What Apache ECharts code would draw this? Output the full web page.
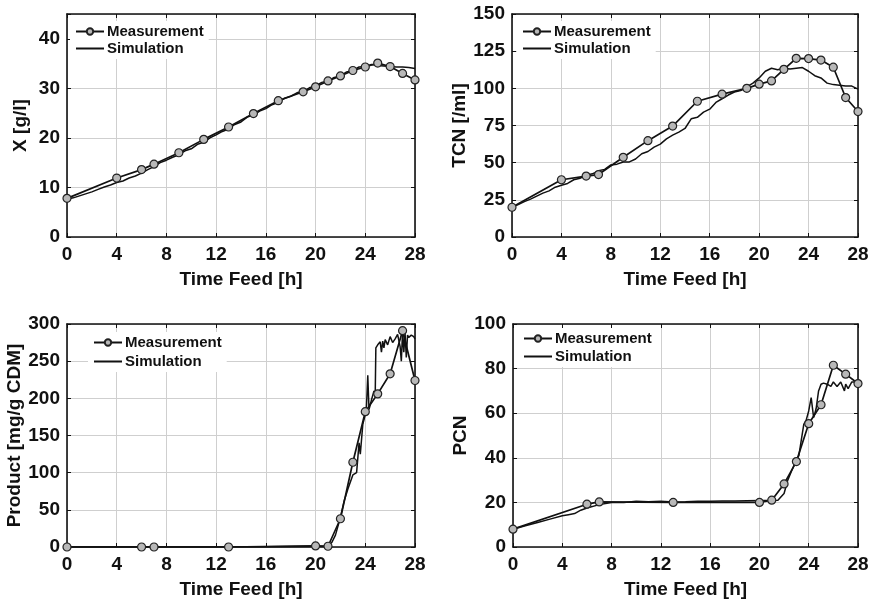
<!DOCTYPE html>
<html>
<head>
<meta charset="utf-8">
<script src="https://cdn.jsdelivr.net/npm/echarts@6/dist/echarts.min.js"></script>
<style>
html,body{margin:0;padding:0;background:#fff;}
#c{width:873px;height:603px;}
</style>
</head>
<body>
<div id="c"></div>
<script>
// ---------- data ----------
const xTicks = [0, 4, 8, 12, 16, 20, 24, 28];

// Panel 1: X [g/l]
const xMeasT = [0, 4, 6, 7, 9, 11, 13, 15, 17, 19, 20, 21, 22, 23, 24, 25, 26, 27, 28];
const xMeasV = [7.8, 11.9, 13.6, 14.7, 17.0, 19.7, 22.2, 24.9, 27.5, 29.3, 30.3, 31.5, 32.5, 33.6, 34.3, 35.1, 34.4, 33.0, 31.7];
const xSimT = [0, 0.5, 1, 1.5, 2, 2.5, 3, 3.5, 4, 4.5, 5, 5.5, 6, 6.5, 7, 7.5, 8, 8.5, 9, 9.5, 10, 10.5, 11, 11.5, 12, 12.5, 13, 13.5, 14, 14.5, 15, 15.5, 16, 16.5, 17, 17.5, 18, 18.5, 19, 19.5, 20, 20.5, 21, 21.5, 22, 22.5, 23, 23.5, 24, 24.5, 25, 25.5, 26, 26.5, 27, 27.5, 28];
const xSimV = [7.6, 7.9, 8.3, 8.7, 9.1, 9.6, 10.1, 10.5, 11.0, 11.3,
  11.9, 12.3, 12.9, 13.6, 14.2, 15.0, 15.5, 16.1, 16.6, 17.4,
  17.8, 18.7, 19.1, 20.0, 20.6, 21.3, 21.8, 22.7, 23.2, 24.2,
  24.6, 25.4, 25.9, 26.7, 27.2, 28.0, 28.4, 29.1, 29.4, 30.1,
  30.5, 31.2, 31.5, 32.2, 32.5, 33.3, 33.6, 34.3, 34.4, 34.8,
  34.6, 34.5, 34.4, 34.3, 34.3, 34.2, 34.0];

// Panel 2: TCN [/ml]
const tcnMeasT = [0, 4, 6, 7, 9, 11, 13, 15, 17, 19, 20, 21, 22, 23, 24, 25, 26, 27, 28];
const tcnMeasV = [20, 38.5, 41, 42, 53.6, 64.8, 74.6, 91.3, 96.1, 100, 102.8, 105, 112.8, 120.2, 120, 119, 114.2, 93.8, 84.4];
const tcnSimT = [0, 0.5, 1, 1.5, 2, 2.5, 3, 3.5, 4, 4.5, 5, 5.5, 6, 6.5, 7, 7.5, 8, 8.5, 9, 9.5, 10, 10.5, 11, 11.5, 12, 12.5, 13, 13.5, 14, 14.5, 15, 15.5, 16, 16.5, 17, 17.5, 18, 18.5, 19, 19.5, 20, 20.5, 21, 21.5, 22, 22.5, 23, 23.5, 24, 24.5, 25, 25.5, 26, 26.5, 27, 27.5, 28];
const tcnSimV = [20, 21.8, 23.8, 25.5, 27.5, 29.5, 31, 33.5, 34.8, 36,
  38.5, 39.5, 41.5, 42.5, 44.5, 45.5, 48.5, 49, 50.5, 50.5,
  52.5, 56, 57.5, 60.5, 62.5, 66, 68.5, 70.5, 73, 79.5,
  80.5, 84, 86, 90.5, 93, 95.5, 97.5, 98.5, 101, 103.5,
  107, 111.5, 113.5, 112.5, 113.5, 113, 113.5, 114, 111.5, 108.5,
  107, 103.5, 102.5, 102, 101.5, 101.5, 99.5];

// Panel 3: Product [mg/g CDM]
const prodMeasT = [0, 6, 7, 13, 20, 21, 22, 23, 24, 25, 26, 27, 28];
const prodMeasV = [0, 0, 0, 0, 1.5, 1, 38, 114, 182, 206, 233, 291, 224];
const prodSimT = [0, 4, 8, 12, 16, 20, 21, 21.3, 21.6, 22, 22.3, 22.6, 23, 23.3, 23.5, 23.6, 23.8, 24, 24.1, 24.2, 24.3, 24.5, 24.7, 24.8, 24.85, 25, 25.2, 25.3, 25.4, 25.5, 25.6, 25.8, 26, 26.2, 26.4, 26.6, 26.8, 26.9, 27, 27.1, 27.2, 27.3, 27.4, 27.5, 27.7, 27.9, 28];
const prodSimV = [0, 0, 0, 0, 0.5, 1, 1, 6, 16, 40, 62, 78, 97, 100, 140, 125, 165, 178, 190, 231, 185, 198, 210, 206, 268, 272, 276, 262, 277, 268, 279, 272, 283, 275, 280, 286, 270, 250, 290, 262, 288, 255, 285, 282, 285, 283, 280];

// Panel 4: PCN
const pcnMeasT = [0, 6, 7, 13, 20, 21, 22, 23, 24, 25, 26, 27, 28];
const pcnMeasV = [8, 19.2, 20.2, 20, 20, 21, 28.3, 38.3, 55.3, 63.8, 81.5, 77.5, 73.3];
const pcnSimT = [0, 1, 2, 3, 4, 4.5, 5, 5.5, 6, 7, 8, 9, 10, 11, 12, 13, 14, 15, 16, 17, 18, 19, 20, 21, 21.5, 22, 22.3, 22.6, 23, 23.2, 23.4, 23.6, 23.8, 24, 24.2, 24.4, 24.6, 24.8, 25, 25.2, 25.5, 25.8, 26, 26.3, 26.6, 26.9, 27, 27.2, 27.5, 27.8, 28];
const pcnSimV = [8, 9.5, 11, 12.5, 14, 14.5, 15, 16.5, 17.5, 19, 20, 20, 20.5, 20.3, 20.5, 20.2, 20.3, 20.5, 20.5, 20.6, 20.6, 20.7, 20.8, 20.8, 21, 24, 30, 34, 39, 41, 48, 55, 57, 61, 67, 58, 62, 70, 73, 73.5, 73, 72, 74, 72, 74, 70, 73, 71, 74, 74, 74];

const panels = [
  { name: 'X [g/l]', ymax: 45, yint: 10, labelStep: 10, mt: xMeasT, mv: xMeasV, st: xSimT, sv: xSimV },
  { name: 'TCN [/ml]', ymax: 150, yint: 25, labelStep: 25, mt: tcnMeasT, mv: tcnMeasV, st: tcnSimT, sv: tcnSimV },
  { name: 'Product [mg/g CDM]', ymax: 300, yint: 50, labelStep: 50, mt: prodMeasT, mv: prodMeasV, st: prodSimT, sv: prodSimV },
  { name: 'PCN', ymax: 100, yint: 20, labelStep: 20, mt: pcnMeasT, mv: pcnMeasV, st: pcnSimT, sv: pcnSimV }
];

// ---------- layout / style ----------
const FONT = '"Liberation Sans", Arial, sans-serif';
const INK = '#111';
const grids = [
  { left: 67, right: 458, top: 14, bottom: 366 },
  { left: 512, right: 15, top: 14, bottom: 366 },
  { left: 67, right: 458, top: 324, bottom: 56 },
  { left: 513, right: 15, top: 324, bottom: 56 }
];
const yNameGaps = [37, 38, 42, 37];
const legendPos = [
  { left: 70, top: 21, itemGap: 2 },
  { left: 517, top: 21, itemGap: 2 },
  { left: 88, top: 332, itemGap: 4 },
  { left: 518, top: 328, itemGap: 3 }
];

const zip = (a, b) => a.map((t, i) => [t, b[i]]);

const xAxis = [], yAxis = [], series = [], legend = [];
panels.forEach((p, i) => {
  const tickStyle = { show: true, inside: true, length: 4, lineStyle: { color: INK, width: 1 } };
  const lineStyle = { show: true, onZero: false, lineStyle: { color: INK, width: 1.6 } };
  xAxis.push({
    type: 'value', gridIndex: i, min: 0, max: 28, interval: 4, position: 'bottom',
    name: 'Time Feed [h]', nameLocation: 'middle', nameGap: 33,
    nameTextStyle: { fontFamily: FONT, fontWeight: 'bold', fontSize: 19, color: INK },
    axisLine: lineStyle, axisTick: tickStyle,
    axisLabel: { fontFamily: FONT, fontWeight: 'bold', fontSize: 19, color: INK, margin: 8,
      formatter: v => xTicks.indexOf(v) >= 0 ? String(v) : '' },
    splitLine: { show: true, lineStyle: { color: '#cfcfcf', width: 1 } }
  });
  xAxis.push({
    type: 'value', gridIndex: i, min: 0, max: 28, interval: 4, position: 'top',
    axisLine: lineStyle, axisTick: tickStyle, axisLabel: { show: false }, splitLine: { show: false }
  });
  yAxis.push({
    type: 'value', gridIndex: i, min: 0, max: p.ymax, interval: p.yint, position: 'left',
    name: p.name, nameLocation: 'middle', nameGap: yNameGaps[i], nameRotate: 90,
    nameTextStyle: { fontFamily: FONT, fontWeight: 'bold', fontSize: 19, color: INK },
    axisLine: lineStyle, axisTick: tickStyle,
    axisLabel: { fontFamily: FONT, fontWeight: 'bold', fontSize: 19, color: INK, margin: 7,
      formatter: v => (v % p.labelStep === 0) ? String(v) : '' },
    splitLine: { show: true, lineStyle: { color: '#cfcfcf', width: 1 } }
  });
  yAxis.push({
    type: 'value', gridIndex: i, min: 0, max: p.ymax, interval: p.yint, position: 'right',
    axisLine: lineStyle, axisTick: tickStyle, axisLabel: { show: false }, splitLine: { show: false }
  });
  series.push({
    name: 'Measurement', type: 'line', xAxisIndex: 2 * i, yAxisIndex: 2 * i,
    data: zip(p.mt, p.mv), symbol: 'circle', symbolSize: 8, showAllSymbol: true, z: 3,
    lineStyle: { color: INK, width: 1.7 },
    itemStyle: { color: '#b8b8b8', borderColor: '#222', borderWidth: 1.2 }
  });
  series.push({
    name: 'Simulation', type: 'line', xAxisIndex: 2 * i, yAxisIndex: 2 * i,
    data: zip(p.st, p.sv), symbol: 'none', z: 2,
    lineStyle: { color: INK, width: 1.5 },
    itemStyle: { color: INK }
  });
  legend.push({
    data: [
      { name: 'Measurement' },
      { name: 'Simulation', itemStyle: { color: 'rgba(0,0,0,0)', borderColor: 'rgba(0,0,0,0)', borderWidth: 0, opacity: 0 } }
    ],
    orient: 'vertical',
    left: legendPos[i].left, top: legendPos[i].top, itemGap: legendPos[i].itemGap,
    itemWidth: 28, itemHeight: 8, padding: [3, 5, 3, 5], backgroundColor: '#fff',
    textStyle: { fontFamily: FONT, fontWeight: 'bold', fontSize: 15, color: INK, padding: [0, 0, 0, -2] },
    selectedMode: false
  });
});

const chart = echarts.init(document.getElementById('c'), null, { renderer: 'canvas' });
chart.setOption({
  animation: false,
  backgroundColor: '#fff',
  grid: grids,
  xAxis, yAxis, series, legend
});
</script>
</body>
</html>
